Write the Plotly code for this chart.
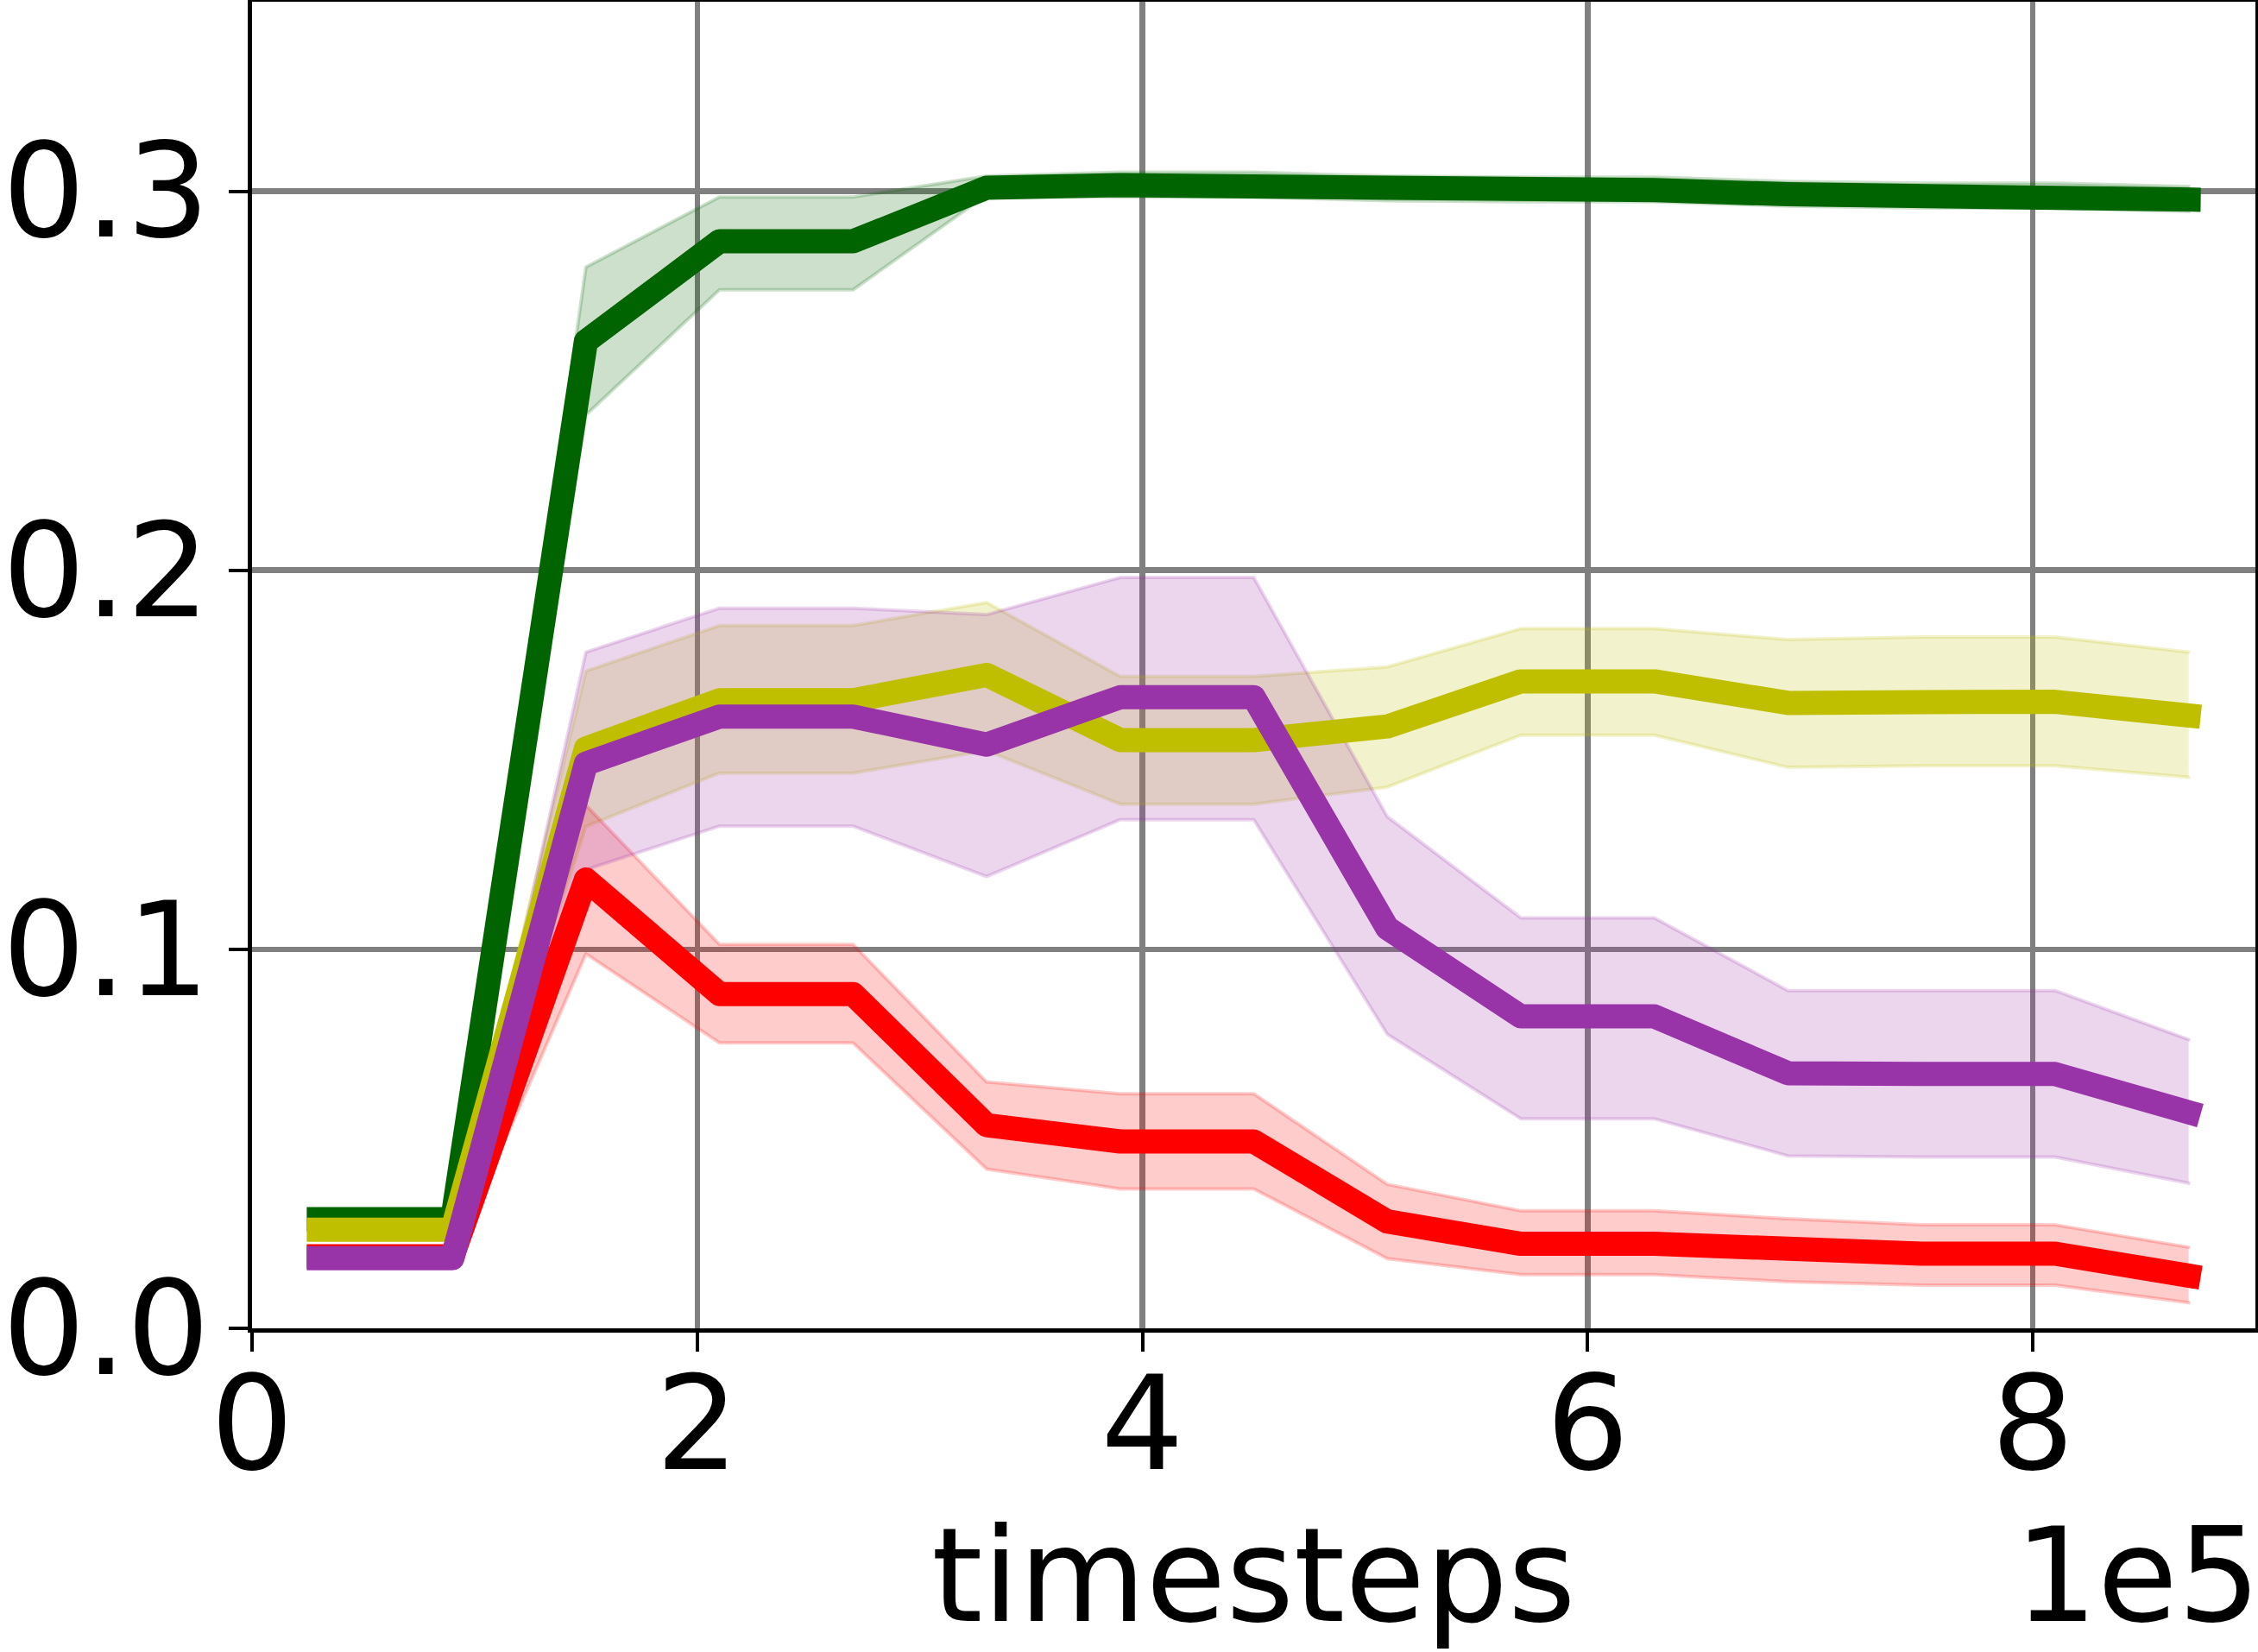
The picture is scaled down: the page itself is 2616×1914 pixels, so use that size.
import plotly.graph_objects as go

# ---- data (x in timesteps) ----
timesteps = [30000, 90000, 150000, 210000, 270000, 330000, 390000, 450000,
             510000, 570000, 630000, 690000, 750000, 810000, 870000]

green_mean = [0.0288, 0.0288, 0.2604, 0.2868, 0.2868, 0.3009, 0.3016, 0.3016,
              0.3006, 0.3003, 0.3003, 0.2992, 0.2987, 0.2987, 0.2978]
green_upper = [0.0300, 0.0300, 0.2800, 0.2985, 0.2985, 0.3040, 0.3050, 0.3050,
               0.3040, 0.3037, 0.3037, 0.3026, 0.3021, 0.3021, 0.3012]
green_lower = [0.0276, 0.0276, 0.2410, 0.2740, 0.2740, 0.2990, 0.2985, 0.2985,
               0.2975, 0.2972, 0.2972, 0.2961, 0.2956, 0.2956, 0.2947]

yellow_mean = [0.0260, 0.0260, 0.1530, 0.1657, 0.1657, 0.1724, 0.1552, 0.1552,
               0.1588, 0.1707, 0.1707, 0.1650, 0.1652, 0.1653, 0.1617]
yellow_upper = [0.0275, 0.0275, 0.1734, 0.1854, 0.1854, 0.1915, 0.1720, 0.1720,
                0.1745, 0.1846, 0.1846, 0.1817, 0.1824, 0.1824, 0.1784]
yellow_lower = [0.0245, 0.0245, 0.1324, 0.1465, 0.1465, 0.1524, 0.1383, 0.1383,
                0.1428, 0.1565, 0.1565, 0.1480, 0.1484, 0.1484, 0.1454]

red_mean = [0.0190, 0.0190, 0.1184, 0.0882, 0.0882, 0.0536, 0.0493, 0.0493,
            0.0282, 0.0223, 0.0223, 0.0207, 0.0197, 0.0197, 0.0139]
red_upper = [0.0205, 0.0205, 0.1380, 0.1013, 0.1013, 0.0650, 0.0619, 0.0619,
             0.0380, 0.0310, 0.0310, 0.0289, 0.0273, 0.0273, 0.0214]
red_lower = [0.0175, 0.0175, 0.0988, 0.0753, 0.0753, 0.0420, 0.0368, 0.0368,
             0.0184, 0.0142, 0.0142, 0.0123, 0.0114, 0.0114, 0.0068]

purple_mean = [0.0185, 0.0185, 0.1490, 0.1614, 0.1614, 0.1540, 0.1665, 0.1665,
               0.1056, 0.0823, 0.0823, 0.0673, 0.0671, 0.0671, 0.0570]
purple_upper = [0.0195, 0.0195, 0.1784, 0.1900, 0.1900, 0.1883, 0.1981, 0.1981,
                0.1350, 0.1083, 0.1083, 0.0891, 0.0891, 0.0891, 0.0762]
purple_lower = [0.0175, 0.0175, 0.1210, 0.1325, 0.1325, 0.1192, 0.1342, 0.1342,
                0.0776, 0.0553, 0.0553, 0.0455, 0.0452, 0.0452, 0.0383]

x_tickvals = [0, 200000, 400000, 600000, 800000]
x_ticktext = ["0", "2", "4", "6", "8"]
y_tickvals = [0.0, 0.1, 0.2, 0.3]
y_ticktext = ["0.0", "0.1", "0.2", "0.3"]

series = [
    ("green", (0, 100, 0), green_mean, green_upper, green_lower),
    ("yellow", (191, 191, 0), yellow_mean, yellow_upper, yellow_lower),
    ("red", (255, 0, 0), red_mean, red_upper, red_lower),
    ("purple", (153, 51, 168), purple_mean, purple_upper, purple_lower),
]

FONT = "DejaVu Sans"
FS = 151

fig = go.Figure()

# bands first
for name, rgb, m, up, lo in series:
    c = "rgba(%d,%d,%d,0.2)" % rgb
    fig.add_trace(go.Scatter(x=timesteps, y=up, mode="lines",
                             line=dict(color=c, width=4), showlegend=False,
                             hoverinfo="skip"))
    fig.add_trace(go.Scatter(x=timesteps, y=lo, mode="lines", fill="tonexty",
                             fillcolor=c, line=dict(color=c, width=4),
                             showlegend=False, hoverinfo="skip"))

# mean lines
for name, rgb, m, up, lo in series:
    fig.add_trace(go.Scatter(x=timesteps, y=m, mode="lines", name=name,
                             line=dict(color="rgb(%d,%d,%d)" % rgb, width=28),
                             showlegend=False))

axis_common = dict(
    showline=True, linecolor="black", linewidth=5, mirror=True,
    showgrid=True, gridcolor="#808080", gridwidth=6.5,
    zeroline=False,
    ticks="outside", ticklen=22, tickwidth=4, tickcolor="black",
    tickfont=dict(family=FONT, size=FS, color="black"),
)

fig.update_layout(
    width=2616, height=1914,
    margin=dict(l=292, r=3, t=2, b=375, autoexpand=False),
    paper_bgcolor="white", plot_bgcolor="white",
    font=dict(family=FONT, size=FS, color="black"),
    xaxis=dict(range=[0, 900000], tickvals=x_tickvals, ticktext=x_ticktext,
               ticklabelstandoff=-45,
               title=dict(text="timesteps", font=dict(family=FONT, size=FS),
                          standoff=87),
               **axis_common),
    yaxis=dict(range=[0, 0.35], tickvals=y_tickvals, ticktext=y_ticktext,
               ticklabelstandoff=-8, **axis_common),
    annotations=[dict(text="1e5", xref="paper", yref="paper", x=1.0,
                      y=-0.187, xanchor="right", yanchor="middle", xshift=8,
                      showarrow=False,
                      font=dict(family=FONT, size=FS, color="black"))],
)

post = ("document.body.style.margin='0';"
        "document.querySelectorAll('.scatterlayer .trace .js-line')"
        ".forEach(function(p){p.style.strokeLinecap='square';"
        "p.style.strokeLinejoin='round';});")

fig.write_html("out.html", post_script=post,
               config={"displayModeBar": False, "staticPlot": True})
